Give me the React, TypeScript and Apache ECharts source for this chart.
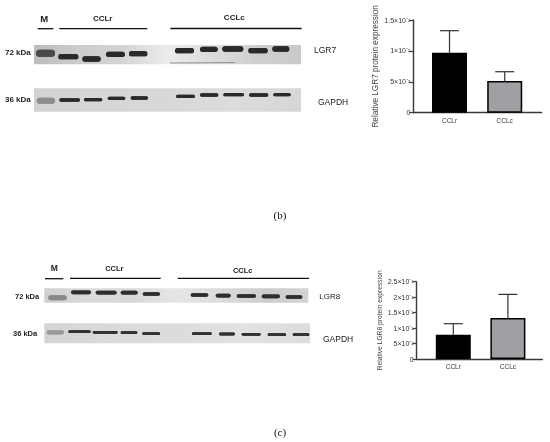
import React, { useEffect, useRef } from "react";
import * as echarts from "echarts";

const categories = ["CCLr", "CCLc"];
const categoryPositions = [1, 2];

// Panel (b): LGR7
const lgr7Means = [0.0097, 0.00513];
const lgr7ErrorTops = [0.01327, 0.00663];
const lgr7Ticks: Record<string, string> = {
  "0": "0",
  "0.005": "5×10⁻³",
  "0.01": "1×10⁻²",
  "0.015": "1.5×10⁻²",
};

// Panel (c): LGR8
const lgr8Means = [0.0787, 0.1325];
const lgr8ErrorTops = [0.1142, 0.209];
const lgr8Ticks: Record<string, string> = {
  "0": "0",
  "0.05": "5×10⁻²",
  "0.1": "1×10⁻¹",
  "0.15": "1.5×10⁻¹",
  "0.2": "2×10⁻¹",
  "0.25": "2.5×10⁻¹",
};

const barFill = ["#000000", "#a0a0a4"];
const INK = "#3a3a3a";

type Lane = [number, number, number]; // x0, x1, centre y in 3x crop units

const lgr7Lanes: Lane[] = [
  [175, 235, 170], [247, 302, 177], [318, 375, 163], [387, 442, 161],
  [525, 582, 152], [600, 653, 148], [667, 730, 147], [745, 803, 152], [817, 868, 147],
];
const gapdhTopLanes: Lane[] = [
  [178, 240, 300], [252, 307, 299], [323, 376, 295], [392, 444, 294],
  [528, 585, 289], [600, 655, 285], [670, 732, 284], [747, 805, 285], [820, 872, 284],
];
const lgr8Lanes: Lane[] = [
  [153, 213, 127], [227, 290, 128], [302, 353, 128], [368, 420, 132],
  [512, 565, 135], [587, 632, 137], [650, 708, 138], [725, 780, 139], [797, 847, 141],
];
const gapdhBottomLanes: Lane[] = [
  [145, 212, 245], [218, 293, 247], [302, 352, 248], [367, 420, 251],
  [516, 575, 251], [597, 645, 252], [665, 722, 253], [743, 798, 254], [818, 868, 254],
];

function band(l: Lane, ox: number, oy: number, h: number, fill: string) {
  const x0 = ox + l[0] / 3;
  const w = (l[1] - l[0]) / 3;
  const cy = oy + l[2] / 3;
  return {
    type: "rect",
    silent: true,
    shape: { x: x0, y: cy - h / 2, width: w, height: h, r: h / 2 },
    style: { fill, shadowBlur: 1.5, shadowColor: fill },
  };
}

function blotRect(x: number, y: number, width: number, height: number, colors: string[]) {
  const stops = colors.map((color, i) => ({ offset: i / (colors.length - 1), color }));
  return {
    type: "rect",
    silent: true,
    shape: { x, y, width, height },
    style: { fill: new echarts.graphic.LinearGradient(0, 0, 1, 0, stops) },
  };
}

function rule(x1: number, x2: number, y: number) {
  return {
    type: "line",
    silent: true,
    shape: { x1, y1: y, x2, y2: y },
    style: { stroke: "#111", lineWidth: 1.3 },
  };
}

function label(x: number, y: number, text: string, size: number, bold: boolean, align = "left", family = "'Liberation Sans', sans-serif", fill = "#222") {
  return {
    type: "text",
    silent: true,
    x,
    y,
    style: {
      text,
      fill,
      fontFamily: family,
      fontSize: size,
      fontWeight: bold ? "bold" : "normal",
      align,
      verticalAlign: "middle",
    },
  };
}

function barPanel(
  gridIndex: number,
  means: number[],
  tops: number[],
  barWidth: number,
  errorCap: number
) {
  const barSeries = {
    type: "bar",
    xAxisIndex: gridIndex,
    yAxisIndex: gridIndex,
    barWidth,
    data: means.map((v, i) => ({
      value: [categoryPositions[i], v],
      itemStyle: { color: barFill[i], borderColor: "#000", borderWidth: 1.5 },
    })),
    z: 3,
  };
  const errorSeries = {
    type: "custom",
    xAxisIndex: gridIndex,
    yAxisIndex: gridIndex,
    clip: false,
    z: 2,
    encode: { x: 0, y: 1 },
    data: means.map((v, i) => [categoryPositions[i], v, tops[i]]),
    renderItem: (_: any, api: any) => {
      const base = api.coord([api.value(0), api.value(1)]);
      const top = api.coord([api.value(0), api.value(2)]);
      const stroke = { stroke: "#333", lineWidth: 1.2 };
      return {
        type: "group",
        children: [
          { type: "line", shape: { x1: base[0], y1: base[1], x2: top[0], y2: top[1] }, style: stroke },
          { type: "line", shape: { x1: top[0] - errorCap, y1: top[1], x2: top[0] + errorCap, y2: top[1] }, style: stroke },
        ],
      };
    },
  };
  return [barSeries, errorSeries];
}

function xAxisFor(gridIndex: number, min: number, max: number) {
  return {
    type: "value",
    gridIndex,
    min,
    max,
    splitLine: { show: false },
    axisLine: { show: true, onZero: false, lineStyle: { color: INK, width: 1.4 } },
    axisTick: { show: false },
    axisLabel: {
      show: true,
      customValues: categoryPositions,
      formatter: (v: number) => categories[categoryPositions.indexOf(v)] ?? "",
      color: "#333",
      fontSize: 6.5,
      fontFamily: "'Liberation Sans', sans-serif",
      margin: 4,
      hideOverlap: false,
    },
  };
}

function yAxisFor(gridIndex: number, max: number, interval: number, ticks: Record<string, string>, name: string, nameGap: number, nameSize: number) {
  return {
    type: "value",
    gridIndex,
    min: 0,
    max,
    interval,
    name,
    nameLocation: "middle",
    nameGap,
    nameRotate: 90,
    nameTextStyle: { color: "#444", fontSize: nameSize, fontFamily: "'Liberation Sans', sans-serif" },
    splitLine: { show: false },
    axisLine: { show: true, lineStyle: { color: INK, width: 1.4 } },
    axisTick: { show: true, length: 4, lineStyle: { color: INK, width: 1.2 } },
    axisLabel: {
      color: "#333",
      fontSize: 7,
      fontFamily: "'Liberation Sans', sans-serif",
      margin: 3,
      formatter: (v: number) => ticks[String(+v.toFixed(6))] ?? "",
    },
  };
}

export default function App() {
  const ref = useRef<HTMLDivElement>(null);
  useEffect(() => {
    if (!ref.current) return;
    const chart = echarts.init(ref.current, undefined, { renderer: "svg" });

    const topOx = 0;
    const topOy = 0;
    const botOx = 20;
    const botOy = 250;

    const graphics: any[] = [
      // Panel (b) blots
      blotRect(34, 45, 267, 19.3, ["#bcbcbc", "#cccccc", "#d4d4d4", "#ececec", "#dcdcdc", "#cfcfcf", "#cacaca"]),
      blotRect(34, 88.3, 267, 23.4, ["#d2d2d2", "#d6d6d6", "#d8d8d8", "#dcdcdc", "#d6d6d6"]),
      rule(37.7, 53.3, 28.7),
      rule(59.3, 147.3, 28.7),
      rule(170.3, 301.7, 28.5),
      { type: "line", silent: true, shape: { x1: 170, y1: 63, x2: 235, y2: 62.6 }, style: { stroke: "#777", lineWidth: 0.8 } },
      band([108, 165, 160], topOx, topOy, 7, "#4a4a4a"),
      band([110, 165, 302], topOx, topOy, 6, "#8e8e8e"),
      ...lgr7Lanes.map((l) => band(l, topOx, topOy, 5.4, "#2c2c2c")),
      ...gapdhTopLanes.map((l) => band(l, topOx, topOy, 3.4, "#2c2c2c")),
      label(5, 52.5, "72 kDa", 8, true),
      label(5, 99.5, "36 kDa", 8, true),
      label(44.3, 18.5, "M", 9.5, true, "center"),
      label(102.7, 18.5, "CCLr", 8, true, "center"),
      label(234.3, 17.7, "CCLc", 8, true, "center"),
      label(314, 50, "LGR7", 8.5, false),
      label(318, 101.7, "GAPDH", 8.5, false),
      label(280, 215, "(b)", 11, false, "center", "'Liberation Serif', serif", "#111"),

      // Panel (c) blots
      blotRect(44.3, 288.3, 264, 14.4, ["#d0d0d0", "#dadada", "#d8d8d8", "#e6e6e6", "#dcdcdc", "#cccccc", "#d2d2d2"]),
      blotRect(44.3, 323.3, 265.7, 20, ["#d4d4d4", "#dadada", "#dcdcdc", "#e2e2e2", "#dcdcdc"]),
      rule(45, 63.3, 278.7),
      rule(70, 160.7, 278.3),
      rule(177.7, 309, 278.3),
      band([85, 140, 143], botOx, botOy, 5, "#8a8a8a"),
      band([80, 132, 247], botOx, botOy, 4.4, "#9a9a9a"),
      ...lgr8Lanes.map((l) => band(l, botOx, botOy, 3.6, "#2f2f2f")),
      ...gapdhBottomLanes.map((l) => band(l, botOx, botOy, 2.8, "#303030")),
      label(15, 296, "72 kDa", 7.5, true),
      label(13, 333.3, "36 kDa", 7.5, true),
      label(54.3, 267.7, "M", 8.5, true, "center"),
      label(114.3, 268.3, "CCLr", 7.5, true, "center"),
      label(242.7, 270.7, "CCLc", 7.5, true, "center"),
      label(319.3, 296.3, "LGR8", 8, false),
      label(323, 339, "GAPDH", 8.5, false),
      label(280, 431.7, "(c)", 11, false, "center", "'Liberation Serif', serif", "#111"),
    ];

    chart.setOption({
      animation: false,
      backgroundColor: "#ffffff",
      graphic: { elements: graphics },
      grid: [
        { left: 413.3, right: 550 - 541.7, top: 20, bottom: 442 - 112.7, containLabel: false },
        { left: 416.7, right: 550 - 542.3, top: 281.7, bottom: 442 - 359, containLabel: false },
      ],
      xAxis: [
        xAxisFor(0, 0.344, 2.67),
        xAxisFor(1, 0.33, 2.63),
      ],
      yAxis: [
        yAxisFor(0, 0.015, 0.005, lgr7Ticks, "Relative LGR7 protein expression", 33.5, 8.2),
        yAxisFor(1, 0.25, 0.05, lgr8Ticks, "Relative LGR8 protein expression", 33.5, 6.7),
      ],
      series: [
        ...barPanel(0, lgr7Means, lgr7ErrorTops, 35, 9.5),
        ...barPanel(1, lgr8Means, lgr8ErrorTops, 35, 9.5),
      ],
    });
    return () => chart.dispose();
  }, []);
  return (
    <div
      ref={ref}
      style={{ position: "absolute", left: 0, top: 0, width: 550, height: 442, filter: "blur(0.4px)" }}
    />
  );
}
